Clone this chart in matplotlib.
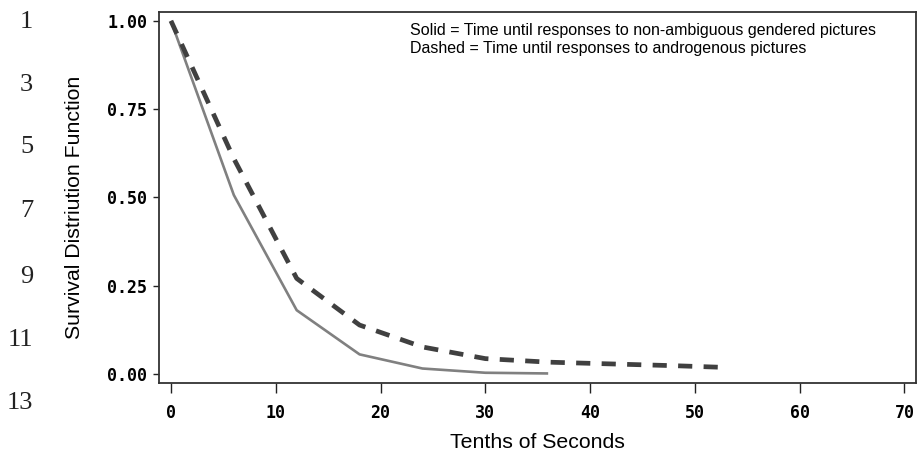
import matplotlib
matplotlib.use("Agg")
import matplotlib.pyplot as plt

# Kaplan-Meier style survival curves (time in tenths of seconds)
solid_time = [0, 6, 12, 18, 24, 30, 36]
solid_surv = [1.0, 0.507, 0.181, 0.056, 0.016, 0.004, 0.002]

dashed_time = [0, 6, 12, 18, 24, 30, 36, 42, 48, 53]
dashed_surv = [1.0, 0.61, 0.271, 0.139, 0.077, 0.044, 0.034, 0.029, 0.024, 0.019]

x_ticks = [0, 10, 20, 30, 40, 50, 60, 70]
y_ticks = [0.0, 0.25, 0.5, 0.75, 1.0]
y_tick_labels = ["0.00", "0.25", "0.50", "0.75", "1.00"]

# manuscript line numbers in the left margin
line_numbers = ["1", "3", "5", "7", "9", "11", "13"]
line_number_y = [22, 85, 147, 211, 277, 340, 403]  # pixel rows

legend_lines = [
    "Solid = Time until responses to non-ambiguous gendered pictures",
    "Dashed = Time until responses to androgenous pictures",
]

W, H = 918, 451
fig = plt.figure(figsize=(W / 100, H / 100), dpi=100)
ax = fig.add_axes([159 / W, (H - 383) / H, (916 - 159) / W, (383 - 12) / H])

ax.plot(solid_time, solid_surv, color="#808080", linewidth=1.9, solid_capstyle="butt")
ax.plot(dashed_time, dashed_surv, color="#404040", linewidth=3.4,
        linestyle=(0, (3.0, 2.4)), dash_capstyle="butt")

ax.set_xlim(-1.14, 71.1)
ax.set_ylim(-0.025, 1.025)

tick_font = dict(family="DejaVu Sans Mono", weight="bold", size=12)
ax.set_xticks(x_ticks)
ax.set_xticklabels([str(t) for t in x_ticks], **tick_font)
ax.set_yticks(y_ticks)
ax.set_yticklabels(y_tick_labels, **tick_font)
ax.tick_params(axis="x", direction="out", length=7, width=1, pad=8, color="#222222")
ax.tick_params(axis="y", direction="out", length=4.5, width=1, pad=4, color="#222222")

for s in ax.spines.values():
    s.set_linewidth(1.3)
    s.set_color("#333333")

label_font = dict(family="Liberation Sans", size=15.3)
ax.set_xlabel("Tenths of Seconds", labelpad=8, **label_font)
ax.set_ylabel("Survival Distriution Function", labelpad=17, **label_font)
ax.yaxis.label.set_y(0.474)

for i, txt in enumerate(legend_lines):
    ax.text(410 / W, 1 - (30 + 19 * i) / H, txt, transform=fig.transFigure,
            ha="left", va="center", family="Liberation Sans", size=11.5)

for num, py in zip(line_numbers, line_number_y):
    fig.text(33 / W, 1 - py / H, num, ha="right", va="center",
             family="Liberation Serif", size=19, color="#222222")

fig.savefig("out.png", dpi=100)
